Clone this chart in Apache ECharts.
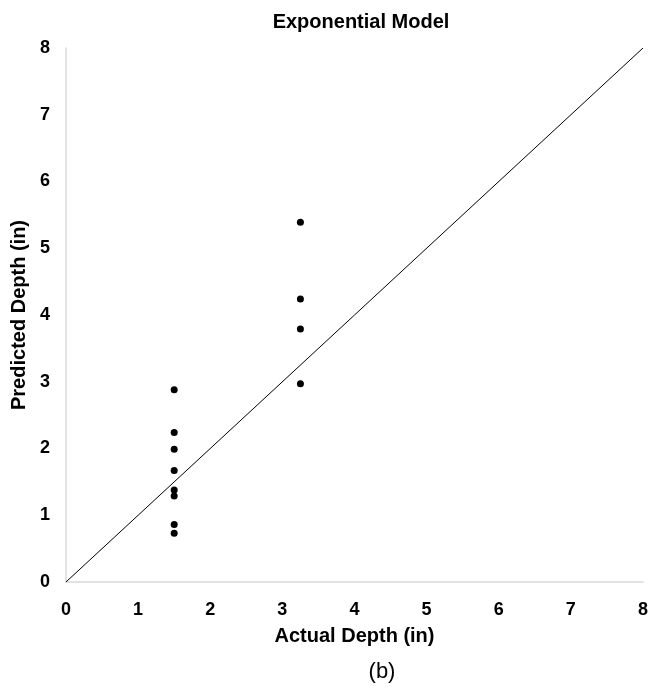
<!DOCTYPE html>
<html><head><meta charset="utf-8">
<script src="https://cdn.jsdelivr.net/npm/echarts@6/dist/echarts.min.js"></script>
<style>html,body{margin:0;padding:0;background:#fff}#c{width:652px;height:692px}</style>
</head><body><div id="c"></div>
<script>
const actual = [1.5,1.5,1.5,1.5,1.5,1.5,1.5,1.5,3.25,3.25,3.25,3.25];
const predicted = [2.88,2.24,1.99,1.67,1.38,1.29,0.86,0.73,5.39,4.24,3.79,2.97];
const refLine = [[0,0],[8,8]];
const ticks = [0,1,2,3,4,5,6,7,8];
const font = 'Liberation Sans, Arial, sans-serif';
const chart = echarts.init(document.getElementById('c'));
chart.setOption({
  animation:false,
  backgroundColor:'#fff',
  title:[
    {text:'Exponential Model',left:356,top:7,textAlign:'center',textStyle:{fontFamily:font,fontSize:20,fontWeight:'bold',color:'#000'}},
    {text:'(b)',left:377,top:656,textAlign:'center',textStyle:{fontFamily:font,fontSize:22,fontWeight:'normal',color:'#000'}}
  ],
  grid:{left:66,right:9,top:48,bottom:110},
  xAxis:{type:'value',min:ticks[0],max:ticks[ticks.length-1],interval:1,
    name:'Actual Depth (in)',nameLocation:'middle',nameGap:44,
    nameTextStyle:{fontFamily:font,fontSize:20,fontWeight:'bold',color:'#000'},
    axisLine:{show:true,lineStyle:{color:'#d9d9d9',width:1.5}},axisTick:{show:false},splitLine:{show:false},
    axisLabel:{fontFamily:font,fontSize:18,fontWeight:'bold',color:'#000',margin:19}},
  yAxis:{type:'value',min:ticks[0],max:ticks[ticks.length-1],interval:1,
    name:'Predicted Depth (in)',nameLocation:'middle',nameGap:30,nameRotate:90,
    nameTextStyle:{fontFamily:font,fontSize:20,fontWeight:'bold',color:'#000'},
    axisLine:{show:true,lineStyle:{color:'#d9d9d9',width:1.5}},axisTick:{show:false},splitLine:{show:false},
    axisLabel:{fontFamily:font,fontSize:18,fontWeight:'bold',color:'#000',margin:16}},
  series:[
    {type:'line',data:refLine,symbol:'none',lineStyle:{color:'#000',width:1},z:2},
    {type:'scatter',data:actual.map((x,i)=>[x,predicted[i]]),symbol:'circle',symbolSize:7,itemStyle:{color:'#000',opacity:1},z:3}
  ]
});
</script></body></html>
